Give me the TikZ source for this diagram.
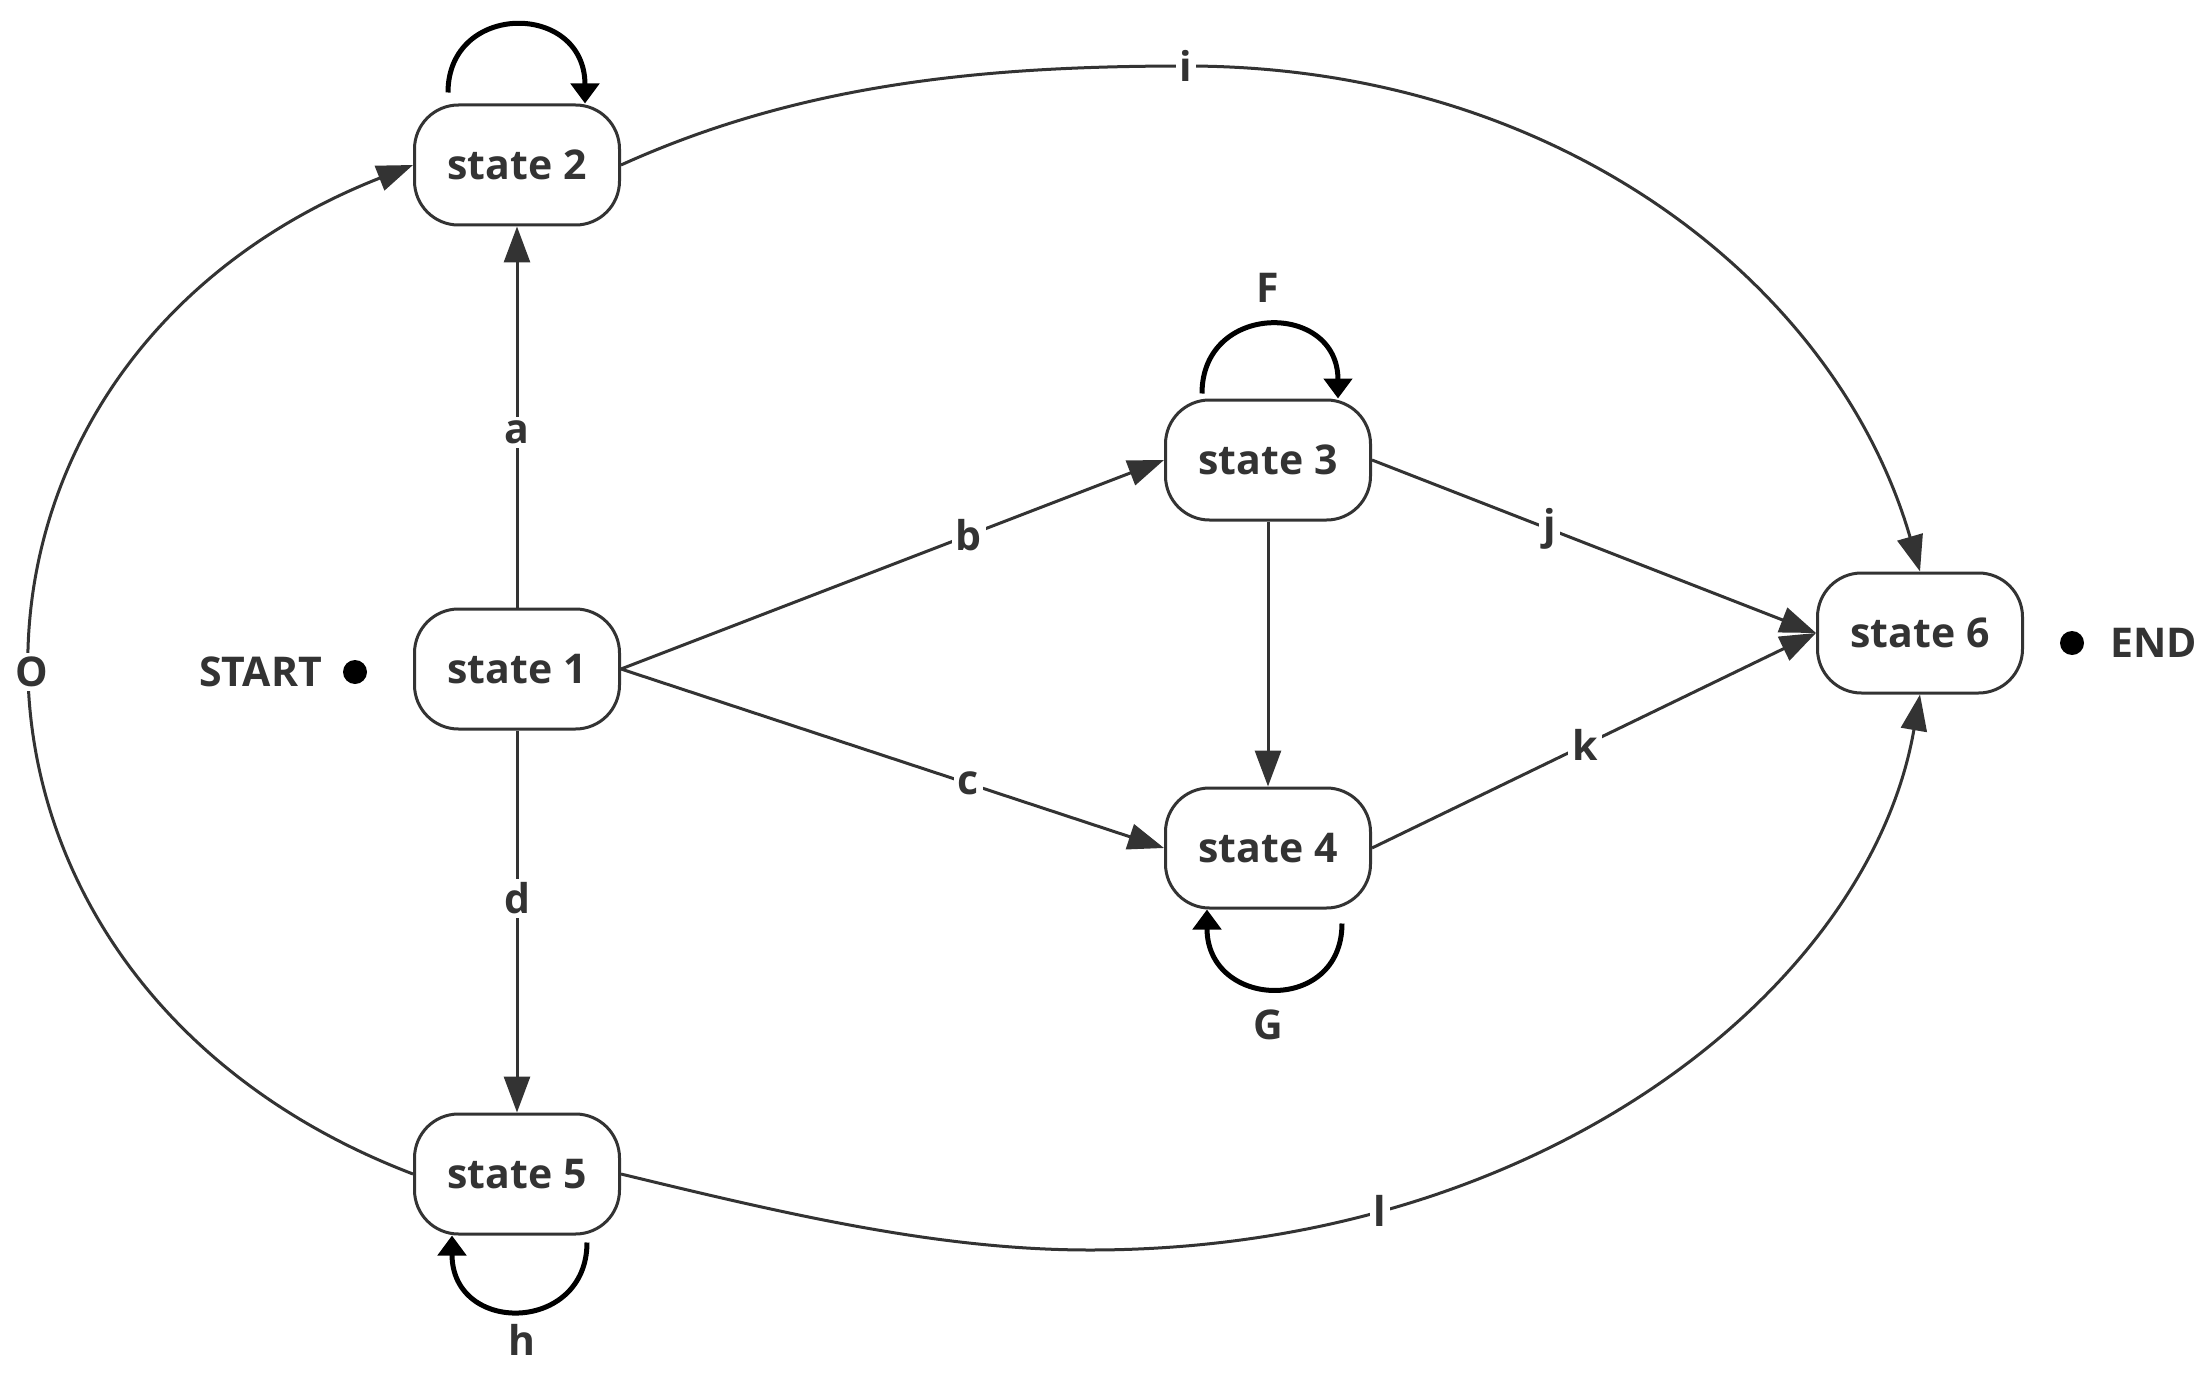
\documentclass[tikz,border=0pt]{standalone}
\usepackage{fontspec}
\setmainfont{Open Sans}
\usetikzlibrary{arrows.meta,calc}
\definecolor{ink}{HTML}{333333}
\begin{document}
\begin{tikzpicture}[x=1pt,y=-1pt,
  txt/.style={text=ink, font=\bfseries\fontsize{41}{48}\selectfont},
  state/.style={txt, draw=ink, line width=3pt, rounded corners=44pt, minimum width=205pt, minimum height=120pt, fill=white, inner sep=0pt},
  edge/.style={draw=ink, line width=3pt, -{Triangle[length=36pt,width=26pt]}},
  selfloop/.style={draw=black, line width=5pt, -{Triangle[length=20pt,width=28pt]}},
  lbl/.style={txt, fill=white, inner sep=4pt},
  dot/.style={circle, fill=black, minimum size=24pt, inner sep=0pt}
]
\useasboundingbox (0,0) rectangle (2212,1375);
\fill[white] (0,0) rectangle (2212,1375);

% states
\node[state] (s1) at (517,669) {state 1};
\node[state] (s2) at (517,165) {state 2};
\node[state] (s3) at (1268,460) {state 3};
\node[state] (s4) at (1268,848) {state 4};
\node[state] (s5) at (517,1174) {state 5};
\node[state] (s6) at (1920,633) {state 6};

% start / end
\node[dot] (startdot) at (355,672) {};
\node[txt, anchor=east, inner sep=0pt] (start) at (322,672) {START};
\node[dot] (enddot) at (2072,643) {};
\node[txt, anchor=west, inner sep=0pt] (end) at (2110,643) {END};

% straight edges
\draw[edge] (s1.north) -- node[lbl, pos=0.46] (la) {a} (s2.south);
\draw[edge] (s1.east) -- node[lbl, pos=0.64] (lb) {b} (s3.west);
\draw[edge] (s1.east) -- node[lbl, pos=0.64] (lc) {c} (s4.west);
\draw[edge] (s1.south) -- node[lbl, pos=0.44] (ld) {d} (s5.north);
\draw[edge] (s3.south) -- (s4.north);
\draw[edge] (s3.east) -- node[lbl, pos=0.40] (lj) {j} (s6.west);
\draw[edge] (s4.east) -- node[lbl, pos=0.48] (lk) {k} (s6.west);

% curved edges
\coordinate (itop) at (1186,66);
\coordinate (lbot) at (1090,1250);
\draw[edge] (s2.east) .. controls (802,83) and (986,66) .. (itop) node[lbl] (li) {i}
  .. controls (1560,66) and (1837,285) .. (s6.north);
\draw[edge] (s5.east) .. controls (790,1215) and (940,1250) .. (lbot)
  .. controls (1541,1250) and (1869,989) .. node[lbl, pos=0.23] (ll) {l} (s6.south);
\draw[edge] (s5.west) .. controls (-95,980) and (-95,365) .. node[lbl, pos=0.5] (lo) {O} (s2.west);

% self loops
\draw[selfloop] ([shift={(-69,-11)}]s2.north) .. controls +(0,-91) and +(0,-102) .. ([shift={(68,0)}]s2.north);
\draw[selfloop] ([shift={(-66,-5)}]s3.north) .. controls +(0,-92) and +(0,-97) .. ([shift={(70,0)}]s3.north);
\draw[selfloop] ([shift={(74,14)}]s4.south) .. controls +(0,91) and +(0,100) .. ([shift={(-61,0)}]s4.south);
\draw[selfloop] ([shift={(70,7)}]s5.south) .. controls +(0,91) and +(0,100) .. ([shift={(-65,0)}]s5.south);

\node[txt] (lF) at (1268,288) {F};
\node[txt] (lG) at (1268,1025) {G};
\node[txt] (lh) at (522,1340) {h};
\end{tikzpicture}
\end{document}
